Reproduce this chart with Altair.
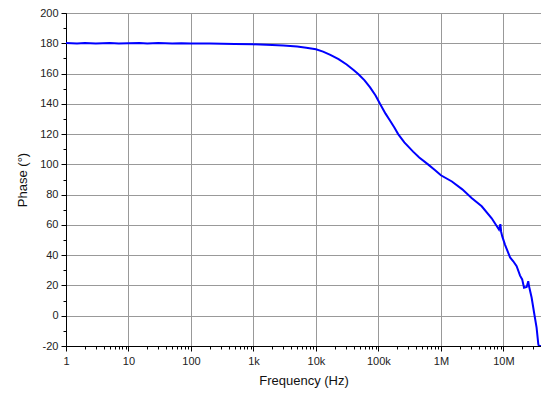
import altair as alt
import pandas as pd

freq = [1, 1.5, 2, 3, 5, 7, 10, 15, 20, 30, 50, 70, 100, 200, 500, 1000, 2000, 3000,
        5000, 7000, 10000, 13000, 17000, 23000, 31000, 40000, 48000, 60000, 73600,
        90000, 106000, 130000, 153000, 180000, 207000, 260000, 359000, 450000, 622000,
        800000, 1.0e6, 1.5e6, 2.2e6, 3.1e6, 4.5e6, 6.5e6, 8.5e6, 8.95e6, 9.2e6, 9.6e6,
        10.6e6, 12.8e6, 14.4e6, 16.3e6, 18.5e6, 20e6, 21.4e6, 23.6e6, 25e6, 25.7e6,
        28.3e6, 31.3e6, 34e6, 36.2e6, 37e6, 40e6]
phase = [180.1, 179.9, 180.2, 179.9, 180.1, 179.9, 180.0, 180.1, 179.9, 180.1, 179.9,
         180.0, 179.9, 179.8, 179.6, 179.3, 178.9, 178.5, 177.8, 177.1, 176.0, 174.5,
         172.3, 169.5, 166.0, 162.3, 159.5, 155.5, 150.9, 145.5, 140.0, 133.5, 129.0,
         124.3, 120.0, 114.5, 108.4, 104.5, 100.0, 96.3, 92.8, 88.7, 83.5, 77.8, 72.3,
         64.4, 57.0, 60.5, 55.5, 52.4, 47.0, 38.5, 36.0, 32.7, 26.5, 24.0, 18.5, 19.0,
         22.8, 19.6, 12.0, 1.0, -7.8, -18.7, -20.0, -20.0]

x_major = [1, 10, 100, 1000, 10000, 100000, 1000000, 10000000]
x_minor = [m * 10 ** d for d in range(8) for m in range(2, 10) if m * 10 ** d <= 4e7]
y_major = list(range(-20, 201, 20))
y_minor = list(range(-10, 200, 20))

df = pd.DataFrame({"freq": freq, "phase": phase})

FONT = "Liberation Sans"
xscale = alt.Scale(type="log", domain=[1, 4e7], nice=False)
yscale = alt.Scale(domain=[-20, 200], nice=False)

label_expr = ("datum.value >= 1e6 ? format(datum.value/1e6,'d') + 'M' : "
              "datum.value >= 1e3 ? format(datum.value/1e3,'d') + 'k' : format(datum.value,'d')")

main = alt.Chart(df).mark_line(color="#0000ff", strokeWidth=2, clip=True).encode(
    x=alt.X("freq:Q", scale=xscale, title="Frequency (Hz)",
            axis=alt.Axis(orient="bottom", values=x_major, labelExpr=label_expr,
                          grid=True, gridColor="#999999", gridWidth=1,
                          domainColor="black", tickColor="black", tickSize=5,
                          labelFont=FONT, labelFontSize=11, labelColor="#222",
                          labelPadding=4, labelFlush=False,
                          titleFont=FONT, titleFontSize=13, titleFontWeight="normal",
                          titleColor="#111", titlePadding=8)),
    y=alt.Y("phase:Q", scale=yscale, title="Phase (°)",
            axis=alt.Axis(orient="left", values=y_major, labelExpr="'' + datum.value",
                          grid=True, gridColor="#999999", gridWidth=1,
                          domainColor="black", tickColor="black", tickSize=5,
                          labelFont=FONT, labelFontSize=11, labelColor="#222",
                          labelPadding=3,
                          titleFont=FONT, titleFontSize=13, titleFontWeight="normal",
                          titleColor="#111", titlePadding=10)),
)

minor = alt.Chart(df).mark_line(opacity=0).encode(
    x=alt.X("freq:Q", scale=xscale, title=None,
            axis=alt.Axis(orient="bottom", values=x_minor, labels=False, grid=False,
                          domain=False, tickColor="black", tickSize=3)),
    y=alt.Y("phase:Q", scale=yscale, title=None,
            axis=alt.Axis(orient="left", values=y_minor, labels=False, grid=False,
                          domain=False, tickColor="black", tickSize=3)),
)

chart = alt.layer(minor, main).resolve_axis(x="independent", y="independent").properties(
    width=475, height=333,
    autosize=alt.AutoSizeParams(type="none"),
    padding={"left": 58, "top": 5, "right": 0, "bottom": 43},
    background="white",
).configure_view(stroke="black", strokeWidth=1)

chart.save("out.html", embed_options={"renderer": "svg", "actions": False})
